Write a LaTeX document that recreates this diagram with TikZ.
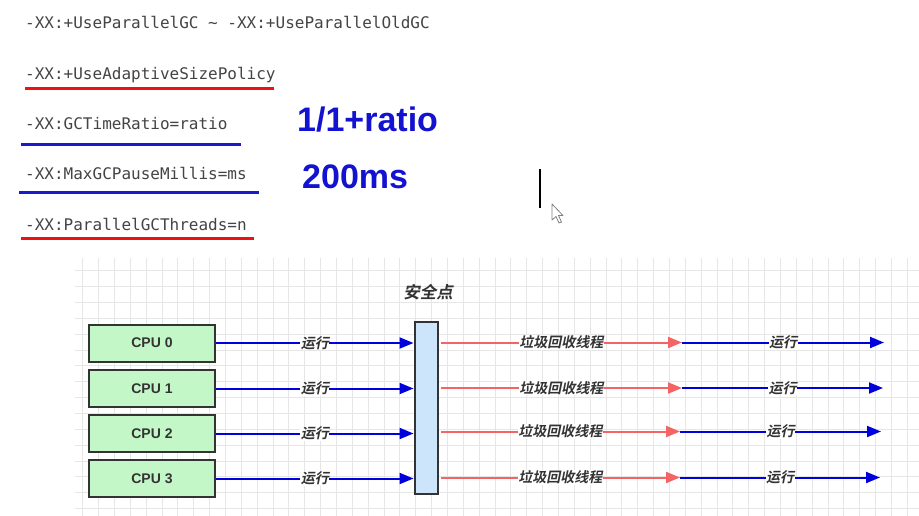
\documentclass[tikz,border=0pt]{standalone}
\usepackage{fontspec}
\setmainfont{Liberation Sans}
\newfontfamily\cjkb[FakeSlant=0.2]{Noto Sans CJK SC Bold}
\newfontfamily\codefont{DejaVu Sans Mono}
\usetikzlibrary{arrows.meta}
\definecolor{codegray}{HTML}{444444}
\definecolor{ulred}{HTML}{EE1111}
\definecolor{ulblue}{HTML}{1A1ACC}
\definecolor{bigblue}{HTML}{1212D0}
\definecolor{cpufill}{HTML}{C4F7C8}
\definecolor{barfill}{HTML}{CCE5FB}
\definecolor{edge}{HTML}{333333}
\definecolor{arrblue}{HTML}{0000DD}
\definecolor{arrred}{HTML}{F46464}
\definecolor{gridc}{HTML}{E6E6E6}
\tikzset{
  code/.style={anchor=base west, inner sep=0pt, text=codegray, font=\codefont\fontsize{16}{18}\selectfont},
  big/.style={anchor=base west, inner sep=0pt, text=bigblue, font=\bfseries\fontsize{34}{38}\selectfont},
  uline/.style={line width=3pt},
  cpu/.style={draw=edge, line width=2pt, fill=cpufill, minimum width=126pt, minimum height=37pt, inner sep=0pt, text=edge, font=\bfseries\fontsize{14}{16}\selectfont},
  sbar/.style={draw=edge, line width=2pt, fill=barfill, minimum width=23pt, minimum height=172pt, inner sep=0pt},
  lbl/.style={fill=white, inner sep=0.5pt, text=edge, font=\cjkb\fontsize{14}{16}\selectfont},
  barlbl/.style={inner sep=0pt, text=edge, font=\cjkb\fontsize{16.5}{18}\selectfont},
  runarrow/.style={draw=arrblue, line width=2pt, -{Triangle[length=14pt,width=11pt]}},
  gcarrow/.style={draw=arrred, line width=2pt, -{Triangle[length=14pt,width=11pt]}},
}
\begin{document}
\begin{tikzpicture}[x=1pt,y=-1pt]
\useasboundingbox[fill=white] (0,0) rectangle (919,516);
% grid
\begin{scope}
\clip (75,258) rectangle (919,516);
\foreach \i in {0,...,53} \draw[gridc, line width=1pt] ({82.7+\i*15.86},258) -- ++(0,258);
\foreach \j in {-1,...,16} \draw[gridc, line width=1pt] (75,{270.7+\j*15.86}) -- ++(844,0);
\end{scope}
% code lines
\node[code] (t1) at (25,29) {-XX:+UseParallelGC \textasciitilde{} -XX:+UseParallelOldGC};
\node[code] (t2) at (25,80) {-XX:+UseAdaptiveSizePolicy};
\node[code] (t3) at (25,130) {-XX:GCTimeRatio=ratio};
\node[code] (t4) at (25,180) {-XX:MaxGCPauseMillis=ms};
\node[code] (t5) at (25,230.5) {-XX:ParallelGCThreads=n};
\draw[uline, ulred] (25,88.3) -- (274,88.3);
\draw[uline, ulblue] (21,144.3) -- (241,144.3);
\draw[uline, ulblue] (19,192.3) -- (259,192.3);
\draw[uline, ulred] (21,238.7) -- (254,238.7);
\node[big] (r1) at (297,131.5) {1/1+ratio};
\node[big] (r2) at (302,189) {200ms};
% text cursor and mouse pointer
\draw[black, line width=2pt] (540,169) -- (540,208);
\draw[gray, line width=0.8pt, fill=white, line join=round] (552,204) -- (552,220) -- (556,216.5) -- (559,223) -- (561.5,222) -- (558.5,215.5) -- (563,215.5) -- cycle;
% diagram
\node[cpu] (c0) at (152,343) {CPU 0};
\node[cpu] (c1) at (152,388.5) {CPU 1};
\node[cpu] (c2) at (152,433.5) {CPU 2};
\node[cpu] (c3) at (152,478.5) {CPU 3};
\node[sbar] (sp) at (426,407.5) {};
\node[barlbl] (spl) at (428,292) {安全点};
\foreach \k in {0,...,3}{
  \draw[runarrow] (c\k.east) -- (c\k.east -| sp.west) node[midway, lbl] {运行};
}
\coordinate (g0) at (682,342.5);
\coordinate (g1) at (682,388);
\coordinate (g2) at (680,431.5);
\coordinate (g3) at (680,477.5);
\coordinate (e0) at (884,342.5);
\coordinate (e1) at (883,388);
\coordinate (e2) at (881,431.5);
\coordinate (e3) at (880,477.5);
\foreach \k in {0,...,3}{
  \draw[gcarrow] ([xshift=2pt]sp.east |- g\k) -- (g\k) node[midway, lbl] {垃圾回收线程};
  \draw[runarrow] (g\k) -- (e\k) node[midway, lbl] {运行};
}
\end{tikzpicture}
\end{document}
